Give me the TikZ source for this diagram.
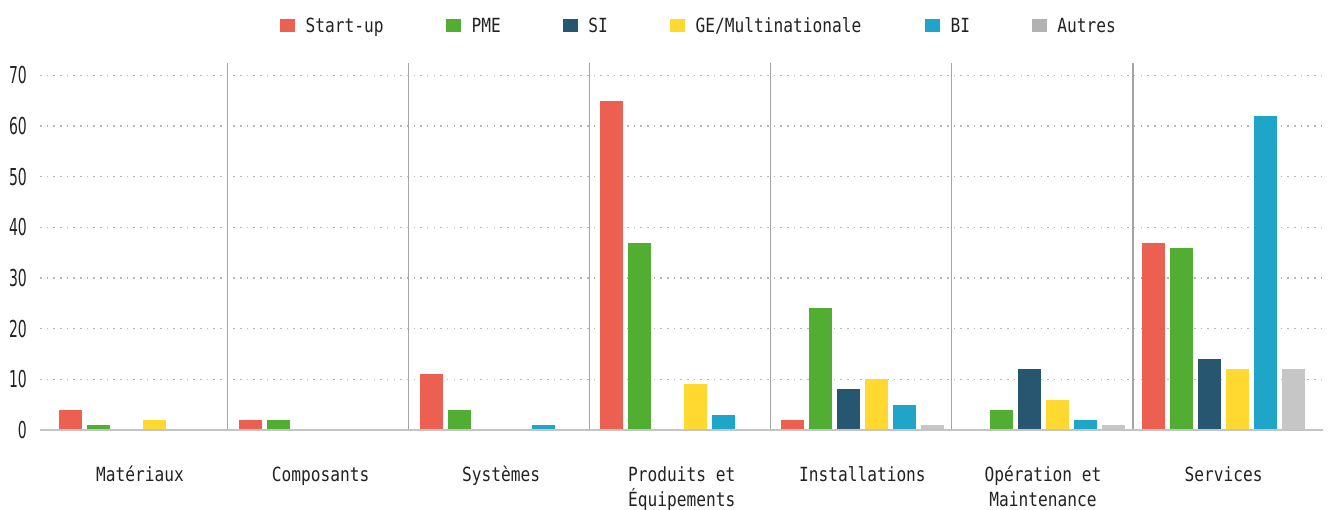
\documentclass[tikz,border=0pt]{standalone}
\usepackage{fontspec}
\setmainfont{DejaVu Sans Mono}[FakeStretch=0.83]
\newfontfamily\chiffres{DejaVu Sans}[FakeStretch=0.6]
\usetikzlibrary{positioning}
\definecolor{startup}{RGB}{236,96,82}
\definecolor{pme}{RGB}{82,174,50}
\definecolor{si}{RGB}{38,86,112}
\definecolor{ge}{RGB}{255,217,47}
\definecolor{bi}{RGB}{30,165,199}
\definecolor{autres}{RGB}{198,198,198}
\definecolor{autresleg}{RGB}{178,178,178}
\definecolor{encre}{RGB}{34,34,34}
\definecolor{gris}{RGB}{165,165,165}
\definecolor{grisaxe}{RGB}{196,196,196}

\begin{document}
\begin{tikzpicture}[%
x=1pt,y=1pt,
grille/.style={dash pattern=on 1.6pt off 5.07pt,line width=1.4pt,gris!80},
separateur/.style={line width=1.3pt,gris},
axe/.style={line width=2pt,grisaxe},
graduation/.style={anchor=east,inner sep=0pt,text=encre,font=\chiffres\fontsize{23.3}{24}\selectfont},
categorie/.style={anchor=base,inner sep=0pt,align=center,text=encre,font=\fontsize{19.5}{24.5}\selectfont},
legende/.style={anchor=base west,inner sep=0pt,text=encre,font=\fontsize{19.5}{24}\selectfont},
carre/.style={anchor=south west,inner sep=0pt,minimum width=15pt,minimum height=13.4pt}]
\useasboundingbox (0,-79) rectangle (1331,430);
% lignes de la grille et graduations
\foreach \v in {10,20,...,70}
  \draw [grille] (40,5.065*\v) -- (1323,5.065*\v);
\foreach \v in {0,10,...,70}
  \node [graduation] (y\v) at (27,5.065*\v) {\v};
% barres, une ligne par categorie
\begin{scope}[y=5.065pt]
\foreach \x/\a/\b/\c/\d/\e/\f in {58.5/4/1/0/2/0/0,239.1/2/2/0/0/0/0,419.7/11/4/0/0/1/0,
  600.3/65/37/0/9/3/0,780.9/2/24/8/10/5/1,961.5/0/4/12/6/2/1,1142.1/37/36/14/12/62/12}{
  \fill [startup] (\x,0)     rectangle ++(23,\a);
  \fill [pme]     (\x+28,0)  rectangle ++(23,\b);
  \fill [si]      (\x+56,0)  rectangle ++(23,\c);
  \fill [ge]      (\x+84,0)  rectangle ++(23,\d);
  \fill [bi]      (\x+112,0) rectangle ++(23,\e);
  \fill [autres]  (\x+140,0) rectangle ++(23,\f);
}
\end{scope}
\foreach \x in {227.3,408.4,589.6,770.7,951.8,1132.9}
  \draw [separateur] (\x,0) -- (\x,367);
\draw [axe] (40,0) -- (1323,0);
% legende
\node [carre,fill=startup]   (cstart) at (280,397.3) {};
\node [carre,fill=pme]       (cpme)   at (446,397.3) {};
\node [carre,fill=si]        (csi)    at (562.7,397.3) {};
\node [carre,fill=ge]        (cge)    at (670,397.3) {};
\node [carre,fill=bi]        (cbi)    at (925,397.3) {};
\node [carre,fill=autresleg] (cautres) at (1031.7,397.3) {};
\node [legende] (lstart)  at ([xshift=10pt]cstart.south east)  {Start-up};
\node [legende] (lpme)    at ([xshift=10pt]cpme.south east)    {PME};
\node [legende] (lsi)     at ([xshift=10pt]csi.south east)     {SI};
\node [legende] (lge)     at ([xshift=10pt]cge.south east)     {GE/Multinationale};
\node [legende] (lbi)     at ([xshift=10pt]cbi.south east)     {BI};
\node [legende] (lautres) at ([xshift=10pt]cautres.south east) {Autres};
% categories (base = derniere ligne)
\node [categorie] (materiaux)    at (140,-51.7)    {Matériaux};
\node [categorie] (composants)   at (320.6,-51.7)  {Composants};
\node [categorie] (systemes)     at (501.2,-51.7)  {Systèmes};
\node [categorie] (produits)     at (681.8,-76.2)  {Produits et\\Équipements};
\node [categorie] (installations) at (862.4,-51.7) {Installations};
\node [categorie] (operation)    at (1043,-76.2)   {Opération et\\Maintenance};
\node [categorie] (services)     at (1223.6,-51.7) {Services};
\end{tikzpicture}
\end{document}
